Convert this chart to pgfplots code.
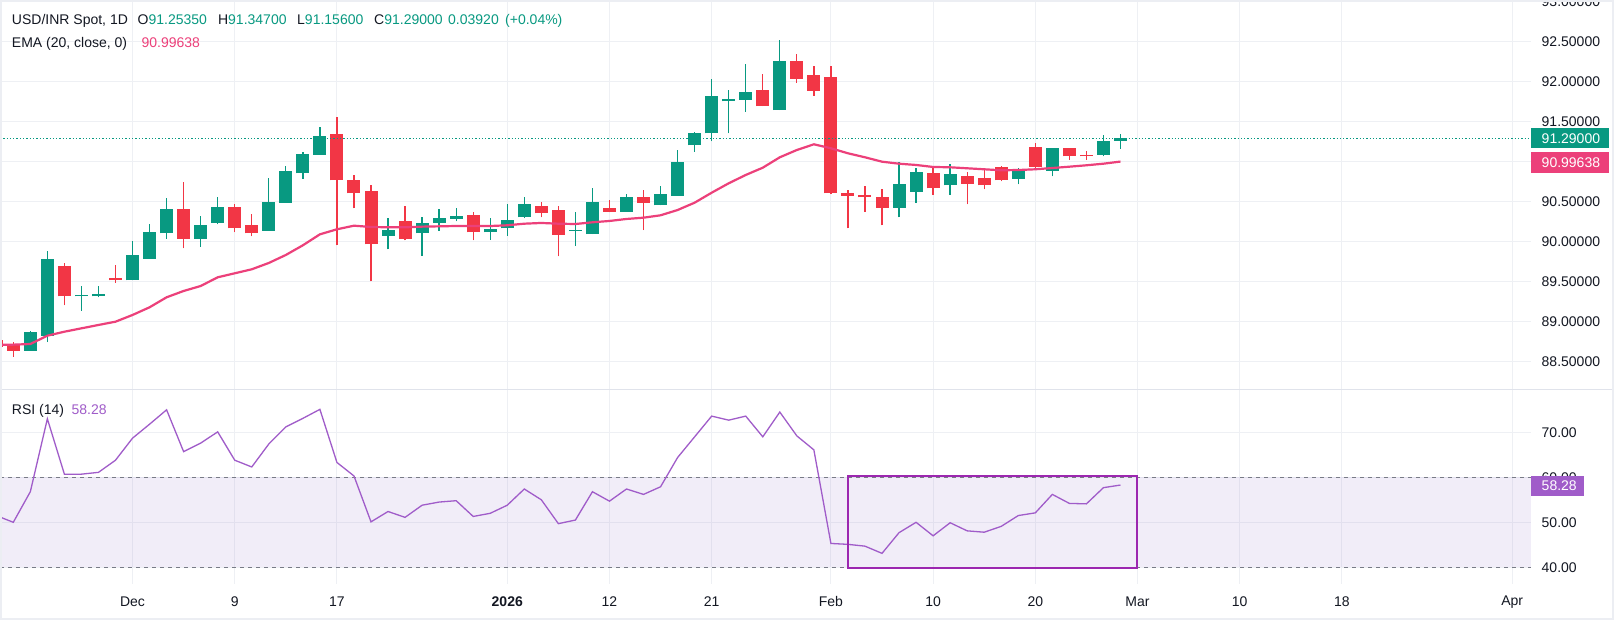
\documentclass[border=0pt]{standalone}
\usepackage{pgfplots}
\pgfplotsset{compat=1.18}
\usepackage{pgfplotstable}
\usepackage{fontspec}
\setmainfont{Liberation Sans}
\definecolor{up}{HTML}{089981}
\definecolor{dn}{HTML}{F23645}
\definecolor{ema}{HTML}{EC407A}
\definecolor{rsi}{HTML}{A05CC9}
\definecolor{boxc}{HTML}{9C27B0}
\definecolor{gridc}{HTML}{EEF0F4}
\definecolor{txt}{HTML}{131722}
\definecolor{lvl}{HTML}{787B86}
\definecolor{sep}{HTML}{E0E3EB}
\definecolor{frame}{HTML}{ECEEF3}
\newcommand\tvf{\fontsize{14}{16}\selectfont}

\pgfplotstableread{
k o h l c
1 88.633 88.882 88.633 88.866
2 88.82 89.88 88.74 89.78
4 89.31 89.44 89.13 89.32
5 89.31 89.44 89.30 89.34
7 89.51 90.00 89.51 89.83
8 89.78 90.22 89.78 90.11
9 90.10 90.54 90.03 90.40
11 90.03 90.32 89.93 90.20
12 90.23 90.55 90.21 90.43
15 90.13 90.79 90.13 90.49
16 90.48 90.94 90.48 90.88
17 90.85 91.12 90.78 91.09
18 91.08 91.43 91.08 91.32
22 90.07 90.29 89.90 90.14
24 90.10 90.30 89.82 90.23
25 90.23 90.40 90.13 90.29
26 90.28 90.42 90.25 90.31
28 90.11 90.29 90.02 90.15
29 90.16 90.47 90.07 90.27
30 90.30 90.55 90.29 90.47
33 90.13 90.37 89.94 90.14
34 90.09 90.67 90.09 90.49
36 90.37 90.59 90.37 90.55
38 90.45 90.69 90.45 90.59
39 90.57 91.14 90.57 90.99
40 91.20 91.37 91.12 91.35
41 91.35 92.03 91.25 91.82
42 91.75 91.89 91.35 91.78
43 91.77 92.22 91.62 91.87
45 91.64 92.52 91.64 92.25
52 90.42 90.99 90.30 90.72
53 90.62 90.92 90.48 90.87
55 90.70 90.97 90.58 90.84
59 90.78 90.92 90.71 90.90
61 90.88 91.17 90.81 91.17
64 91.08 91.33 91.06 91.25
65 91.2535 91.347 91.156 91.29
}\upT

\pgfplotstableread{
k o h l c
-1 88.77 88.80 88.65 88.68
0 88.716 88.741 88.555 88.633
3 89.69 89.73 89.20 89.31
6 89.54 89.70 89.48 89.51
10 90.40 90.74 89.91 90.03
13 90.43 90.47 90.11 90.16
14 90.20 90.34 90.06 90.10
19 91.34 91.55 89.95 90.76
20 90.77 90.83 90.41 90.60
21 90.63 90.70 89.50 89.96
23 90.25 90.44 90.01 90.03
27 90.33 90.37 90.01 90.11
31 90.44 90.49 90.30 90.35
32 90.39 90.44 89.81 90.08
35 90.42 90.52 90.36 90.37
37 90.55 90.64 90.14 90.48
44 91.89 92.09 91.69 91.69
46 92.25 92.34 91.98 92.03
47 92.08 92.19 91.82 91.88
48 92.05 92.19 90.59 90.60
49 90.60 90.64 90.16 90.57
50 90.58 90.69 90.37 90.55
51 90.55 90.65 90.20 90.42
54 90.85 90.93 90.58 90.66
56 90.82 90.87 90.46 90.72
57 90.79 90.89 90.65 90.70
58 90.93 90.94 90.75 90.76
60 91.18 91.23 90.89 90.93
62 91.17 91.17 91.02 91.06
63 91.08 91.13 91.02 91.06
}\dnT

\pgfplotstableread{
k ema
-1 88.707
0 88.708
1 88.716
2 88.82
3 88.87
4 88.912
5 88.954
6 88.995
7 89.079
8 89.175
9 89.30
10 89.379
11 89.441
12 89.55
13 89.60
14 89.65
15 89.729
16 89.829
17 89.95
18 90.087
19 90.15
20 90.195
21 90.179
22 90.175
23 90.175
24 90.183
25 90.187
26 90.191
27 90.191
28 90.191
29 90.20
30 90.22
31 90.229
32 90.22
33 90.216
34 90.2375
35 90.254
36 90.279
37 90.295
38 90.325
39 90.391
40 90.4825
41 90.6075
42 90.725
43 90.829
44 90.92
45 91.05
46 91.141
47 91.2125
48 91.1625
49 91.10
50 91.05
51 90.995
52 90.97
53 90.954
54 90.929
55 90.925
56 90.9125
57 90.90
58 90.8875
59 90.891
60 90.90
61 90.916
62 90.9325
63 90.95
64 90.97
65 90.99638
}\emaT

\pgfplotstableread{
k rsi
-1 51.5
0 50.0
1 56.8
2 73.0
3 60.7
4 60.7
5 61.1
6 63.8
7 68.7
8 71.8
9 75.0
10 65.7
11 67.6
12 70.1
13 63.8
14 62.3
15 67.4
16 71.2
17 73.1
18 75.1
19 63.3
20 60.3
21 50.1
22 52.4
23 51.1
24 53.8
25 54.5
26 54.8
27 51.3
28 52.0
29 53.8
30 57.4
31 55.0
32 49.7
33 50.5
34 56.8
35 54.7
36 57.4
37 56.2
38 57.9
39 64.4
40 69.0
41 73.6
42 72.7
43 73.6
44 69.0
45 74.5
46 69.2
47 66.1
48 45.3
49 45.1
50 44.7
51 43.1
52 47.7
53 50.0
54 47.0
55 49.9
56 48.1
57 47.8
58 49.1
59 51.5
60 52.1
61 56.2
62 54.2
63 54.1
64 57.7
65 58.28
}\rsiT

\pgfplotsset{
  tvaxis/.style={
    scale only axis, width=1531pt,
    xmin=-0.7808, xmax=89.10,
    axis line style={draw=none},
    major tick length=0pt,
    tick style={draw=none},
    xtick={7,13,19,29,35,41,48,54,60,66,72,78,88},
    grid=major,
    major grid style={color=gridc, line width=1pt},
    /pgf/number format/assume math mode=true,
    tick label style={font=\tvf, text=txt},
    yticklabel pos=right,
    yticklabel style={anchor=west, inner sep=0pt, xshift=10.5pt},
  },
  wick/.style={draw=none, mark=none, forget plot,
    error bars/.cd, y dir=plus, y explicit, error mark=none,
    error bar style={draw=#1, line width=1.3pt}},
  body/.style={draw=none, mark=none, forget plot,
    error bars/.cd, y dir=plus, y explicit, error mark=none,
    error bar style={draw=#1, line width=13pt, line cap=butt}},
}

\begin{document}
\begin{tikzpicture}
\fill[white] (0pt,0pt) rectangle (1614pt,620pt);

\begin{axis}[tvaxis, at={(0pt,230.7pt)}, anchor=south west, height=389.3pt,
  ymin=88.15, ymax=93.01625,
  ytick={88.5,89,89.5,90,90.5,91,91.5,92,92.5,93},
  yticklabel={\pgfmathprintnumber[fixed,fixed zerofill,precision=5]{\tick}},
  xticklabels={}]
\addplot[wick=up] table[x=k, y=l, y error plus expr={\thisrow{h}-\thisrow{l}}] {\upT};
\addplot[wick=dn] table[x=k, y=l, y error plus expr={\thisrow{h}-\thisrow{l}}] {\dnT};
\addplot[body=up] table[x=k, y=o, y error plus expr={max(\thisrow{c}-\thisrow{o},0.0125)}] {\upT};
\addplot[body=dn] table[x=k, y=c, y error plus expr={max(\thisrow{o}-\thisrow{c},0.0125)}] {\dnT};
\addplot[ema, line width=2.2pt, mark=none] table[x=k, y=ema] {\emaT};
\addplot[up, line width=1pt, dash pattern=on 1.3pt off 2pt, mark=none] coordinates {(-0.7808,91.29) (89.10,91.29)};
\end{axis}

\begin{axis}[tvaxis, at={(0pt,36pt)}, anchor=south west, height=194.7pt,
  ymin=36.29, ymax=79.56,
  ytick={40,50,60,70},
  yticklabel={\pgfmathprintnumber[fixed,fixed zerofill,precision=2]{\tick}},
  xticklabels={Dec,9,17,\textbf{2026},12,21,Feb,10,20,Mar,10,18,Apr},
  xticklabel style={anchor=center, yshift=-17.7pt}]
\addplot[draw=none, fill={rgb,255:red,126;green,87;blue,194}, fill opacity=0.1, mark=none] coordinates {(-1,40) (90,40) (90,60) (-1,60)};
\addplot[lvl, line width=1pt, dash pattern=on 4pt off 4pt, mark=none] coordinates {(-0.7808,60) (89.10,60)};
\addplot[lvl, line width=1pt, dash pattern=on 4pt off 4pt, mark=none] coordinates {(-0.7808,40) (89.10,40)};
\addplot[rsi, line width=1.3pt, mark=none] table[x=k, y=rsi] {\rsiT};
\addplot[boxc, line width=2.2pt, line cap=rect, line join=miter, mark=none] coordinates {(48.99,39.78) (65.98,39.78) (65.98,60.29) (48.99,60.29) (48.99,39.78)};
\end{axis}

\draw[sep, line width=1.2pt] (0pt,230.7pt) -- (1614pt,230.7pt);

\node[anchor=base west, inner sep=0pt, font=\tvf, text=txt] at (11.8pt,595pt) {USD/INR Spot, 1D};
\node[anchor=base west, inner sep=0pt, font=\tvf, text=txt] at (137.5pt,595pt) {O\textcolor{up}{91.25350}};
\node[anchor=base west, inner sep=0pt, font=\tvf, text=txt] at (217.9pt,595pt) {H\textcolor{up}{91.34700}};
\node[anchor=base west, inner sep=0pt, font=\tvf, text=txt] at (297pt,595pt) {L\textcolor{up}{91.15600}};
\node[anchor=base west, inner sep=0pt, font=\tvf, text=txt] at (374pt,595pt) {C\textcolor{up}{91.29000}};
\node[anchor=base west, inner sep=0pt, font=\tvf, text=up] at (448pt,595pt) {0.03920};
\node[anchor=base west, inner sep=0pt, font=\tvf, text=up] at (505pt,595pt) {(+0.04\%)};
\node[anchor=base west, inner sep=0pt, font=\tvf, text=txt] at (11.8pt,572.7pt) {EMA (20, close, 0)};
\node[anchor=base west, inner sep=0pt, font=\tvf, text=ema] at (141.4pt,572.7pt) {90.99638};
\node[anchor=base west, inner sep=0pt, font=\tvf, text=txt] at (11.8pt,205.7pt) {RSI (14)};
\node[anchor=base west, inner sep=0pt, font=\tvf, text=rsi] at (71.4pt,205.7pt) {58.28};

\fill[up] (1531pt,471.7pt) rectangle (1609pt,491.7pt);
\node[anchor=west, inner sep=0pt, font=\tvf, text=white] at (1541.5pt,481.7pt) {91.29000};
\fill[ema] (1531pt,447.3pt) rectangle (1609pt,467.7pt);
\node[anchor=west, inner sep=0pt, font=\tvf, text=white] at (1541.5pt,457.5pt) {90.99638};
\fill[rsi] (1531pt,124.3pt) rectangle (1584pt,144.3pt);
\node[anchor=west, inner sep=0pt, font=\tvf, text=white] at (1541.5pt,134.3pt) {58.28};

\draw[frame, line width=3.5pt] (0pt,0pt) rectangle (1614pt,620pt);
\pgfresetboundingbox
\useasboundingbox (0pt,0pt) rectangle (1614pt,620pt);
\end{tikzpicture}
\end{document}
